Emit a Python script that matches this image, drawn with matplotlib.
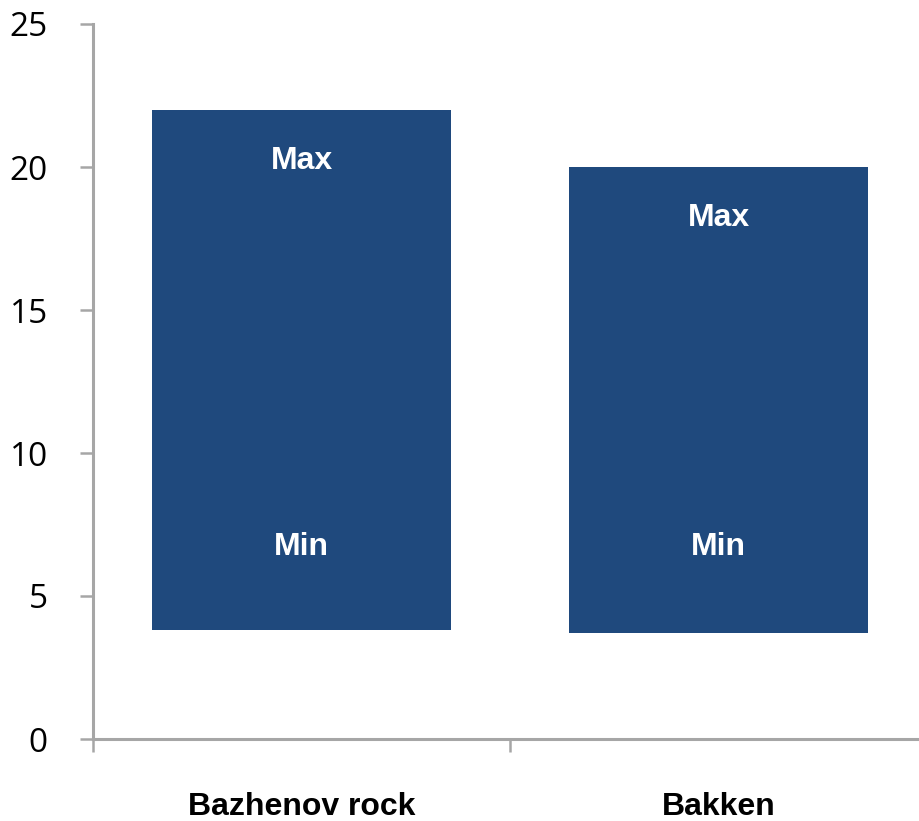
import matplotlib
matplotlib.use("Agg")
import matplotlib.pyplot as plt
from matplotlib.ticker import FixedLocator

categories = ["Bazhenov rock", "Bakken"]
min_values = [3.8, 3.7]
max_values = [22.0, 20.0]
y_ticks = [0, 5, 10, 15, 20, 25]

bar_color = "#1F497D"
spine_color = "#A6A6A6"

fig = plt.figure(figsize=(9.2, 8.21), dpi=100)
W, H = 920, 821
ax = fig.add_axes([93 / W, (H - 739) / H, 834 / W, (739 - 24) / H])

x = [0.5 + i for i in range(len(categories))]
heights = [mx - mn for mn, mx in zip(min_values, max_values)]
ax.bar(x, heights, bottom=min_values, width=0.715, color=bar_color, zorder=2)

for xi, mn, mx in zip(x, min_values, max_values):
    ax.text(xi, mx - 1.78, "Max", ha="center", va="center", color="white",
            fontsize=23, fontweight="bold", family="Liberation Sans")
    ax.text(xi, 6.7, "Min", ha="center", va="center", color="white",
            fontsize=23, fontweight="bold", family="Liberation Sans")

ax.set_xlim(0, 2)
ax.set_ylim(0, 25)
ax.set_yticks(y_ticks)
ax.set_yticklabels([str(t) for t in y_ticks], fontsize=24, family="Open Sans")
ax.set_xticks(x)
ax.set_xticklabels(categories, fontsize=23, fontweight="bold", family="Liberation Sans")
ax.xaxis.set_minor_locator(FixedLocator([0, 1, 2]))

ax.tick_params(axis="y", direction="out", length=9.5, width=1.8, color=spine_color, pad=23)
ax.tick_params(axis="x", which="major", length=0, pad=38)
ax.tick_params(axis="x", which="minor", direction="out", length=9, width=1.8, color=spine_color)

for s in ["top", "right"]:
    ax.spines[s].set_visible(False)
for s in ["left", "bottom"]:
    ax.spines[s].set_color(spine_color)
    ax.spines[s].set_linewidth(2.2)

fig.savefig("out.png", dpi=100)
